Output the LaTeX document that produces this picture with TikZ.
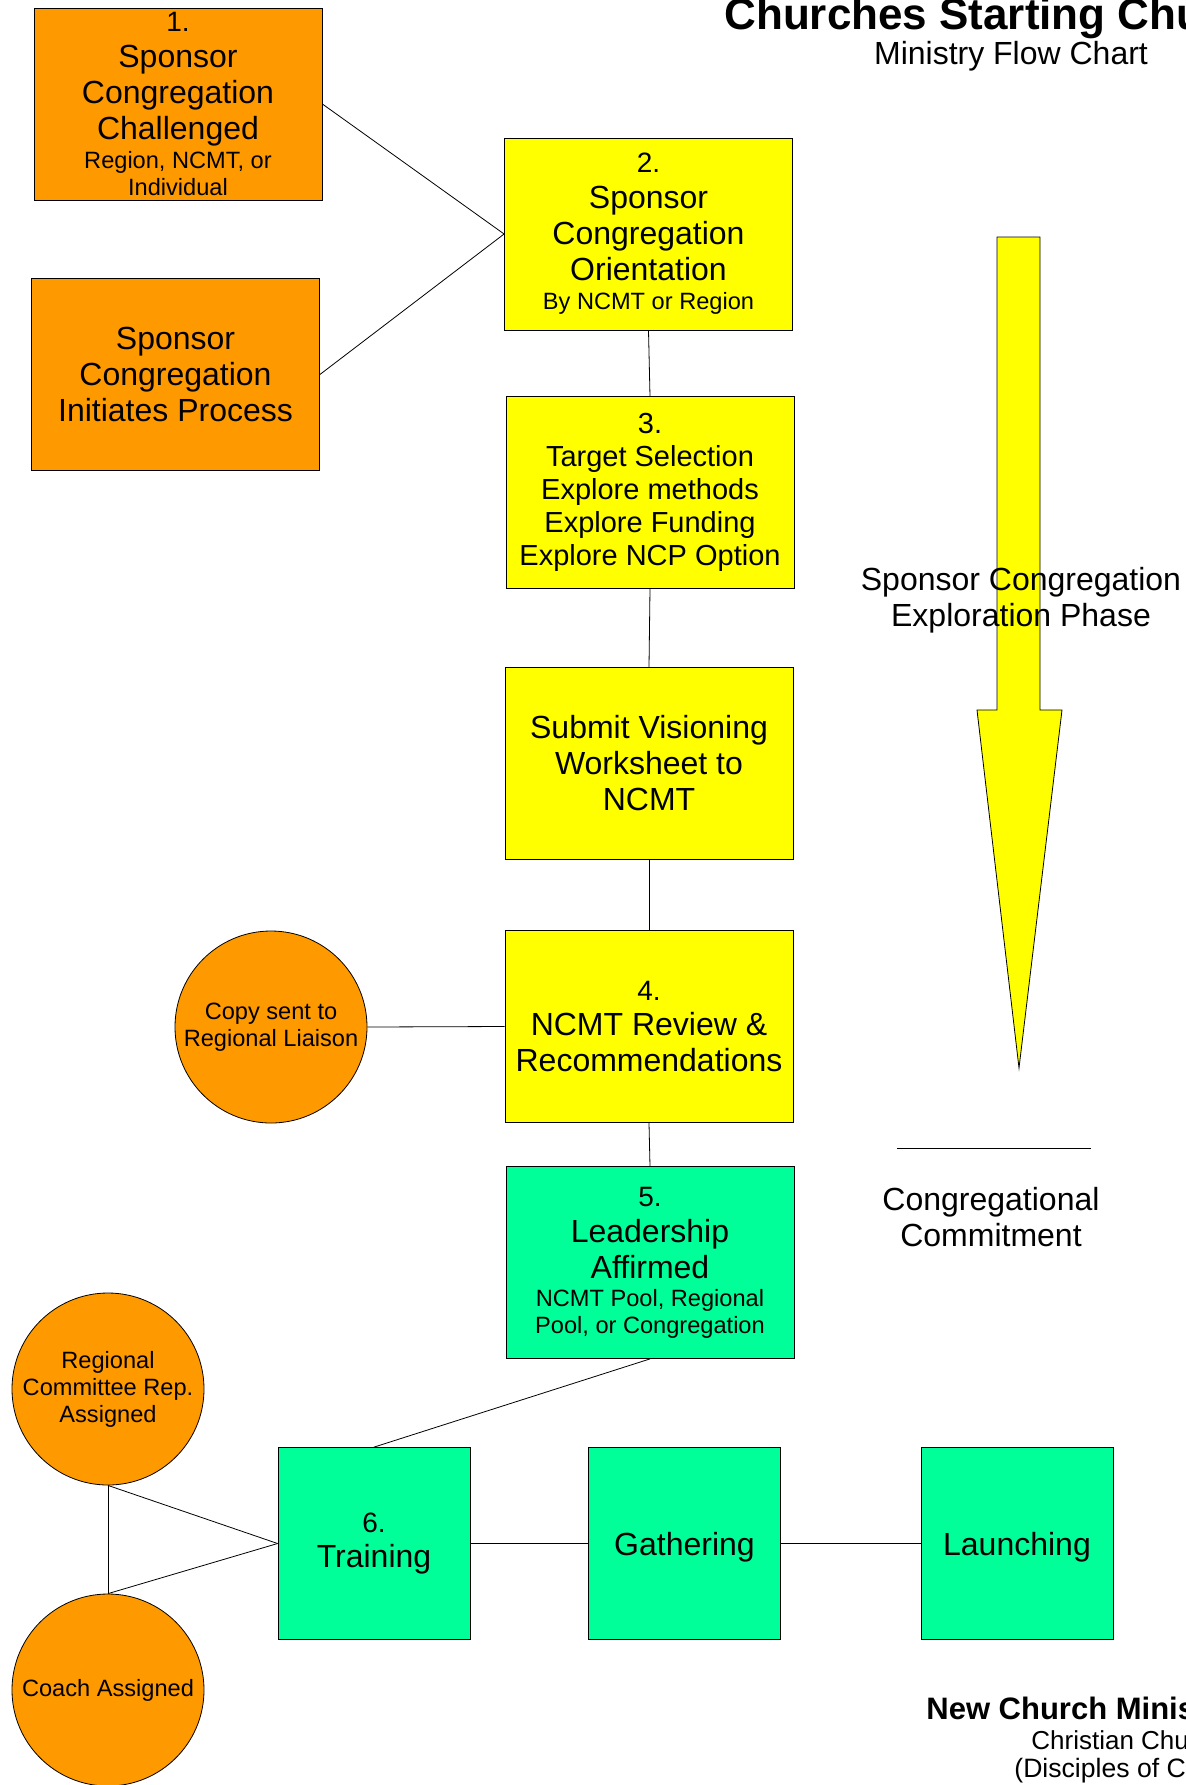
\documentclass[tikz,border=0pt]{standalone}
\usepackage{fontspec}
\setmainfont{Liberation Sans}
\usepackage{xcolor}
\definecolor{boxorange}{HTML}{FF9900}
\definecolor{boxyellow}{HTML}{FFFF00}
\definecolor{boxgreen}{HTML}{00FF99}
\newcommand\bigtxt{\fontsize{16}{18}\selectfont}
\newcommand\midtxt{\fontsize{14.5}{16.5}\selectfont}
\newcommand\numtxt{\fontsize{14}{16}\selectfont}
\newcommand\smalltxt{\fontsize{11.8}{13.5}\selectfont}
\newcommand\titletxt{\fontsize{22}{25}\selectfont\bfseries}

\begin{document}
\begin{tikzpicture}[x=0.5pt,y=-0.5pt,
    stepbox/.style={draw,rectangle,minimum width=144pt,minimum height=96pt,inner sep=0pt,align=center,font=\bigtxt},
    squarebox/.style={stepbox,minimum width=96pt,fill=boxgreen},
    roundbox/.style={draw,circle,minimum size=96pt,inner sep=0pt,align=center,fill=boxorange,font=\smalltxt},
    label/.style={inner sep=0pt}]
  \useasboundingbox (0,0) rectangle (1186,1785);

  \node[stepbox,fill=boxorange] (challenged) at (178,104)
    {\numtxt 1.\\Sponsor\\Congregation\\Challenged\\[-3.5pt]\smalltxt Region, NCMT, or\\[-4.5pt]\smalltxt Individual};
  \node[stepbox,fill=boxorange] (initiates) at (175.5,374.5)
    {Sponsor\\Congregation\\Initiates Process};
  \node[stepbox,fill=boxyellow] (orientation) at (648.5,234)
    {\numtxt 2.\\Sponsor\\Congregation\\Orientation\\[-3.5pt]\smalltxt By NCMT or Region};
  \node[stepbox,fill=boxyellow,font=\midtxt] (target) at (650,492.5)
    {3.\\Target Selection\\Explore methods\\Explore Funding\\Explore NCP Option};
  \node[stepbox,fill=boxyellow] (worksheet) at (649,763.5)
    {Submit Visioning\\Worksheet to\\NCMT};
  \node[stepbox,fill=boxyellow] (review) at (649,1026.5)
    {\numtxt 4.\\[-0.5pt]NCMT Review \&\\Recommendations};
  \node[roundbox] (copy) at (271,1027) {Copy sent to\\Regional Liaison};
  \node[stepbox,fill=boxgreen] (leadership) at (650,1262.5)
    {\numtxt 5.\\Leadership\\Affirmed\\[-4pt]\smalltxt NCMT Pool, Regional\\[-4.5pt]\smalltxt Pool, or Congregation};
  \node[roundbox] (regional) at (108,1389) {Regional\\Committee Rep.\\Assigned};
  \node[roundbox] (coach) at (108,1690) {Coach Assigned};
  \node[squarebox] (training) at (374,1543.5) {\numtxt 6.\\[-0.5pt]Training};
  \node[squarebox,text depth=0pt] (gathering) at (684.5,1543.5) {Gathering};
  \node[squarebox,text depth=0pt] (launching) at (1017,1543.5) {Launching};

  \draw (challenged.east) -- (orientation.west);
  \draw (initiates.east) -- (orientation.west);
  \draw (orientation.south) -- (target.north);
  \draw (target.south) -- (worksheet.north);
  \draw (worksheet.south) -- (review.north);
  \draw (copy.east) -- (review.west);
  \draw (review.south) -- (leadership.north);
  \draw (leadership.south) -- (training.north);
  \draw (regional.south) -- (training.west);
  \draw (coach.north) -- (training.west);
  \draw (regional.south) -- (coach.north);
  \draw (training.east) -- (gathering.west);
  \draw (gathering.east) -- (launching.west);

  \draw[fill=boxyellow] (997,237) -- (1040,237) -- (1040,710) -- (1062,710)
    -- (1019,1068) -- (977,710) -- (997,710) -- cycle;
  \node[label,align=center,font=\bigtxt,anchor=base] (phase) at (1021,626)
    {Sponsor Congregation\\Exploration Phase};
  \coordinate (divleft) at (897,1148);
  \coordinate (divright) at (1091,1148);
  \draw (divleft) -- (divright);
  \node[label,align=center,font=\bigtxt,anchor=base] (commitment) at (991,1246)
    {Congregational\\Commitment};

  \node[label,anchor=base west,font=\titletxt] (title) at (724,29) {Churches Starting Churches};
  \node[label,anchor=base,font=\bigtxt] (subtitle) at (1011,64) {Ministry Flow Chart};
  \node[label,anchor=base west,font=\fontsize{15.5}{18}\selectfont\bfseries] (ministry) at (926,1719) {New Church Ministry};
  \node[label,anchor=base west,font=\fontsize{13}{15}\selectfont] (church) at (1031,1749) {Christian Church};
  \node[label,anchor=base west,font=\fontsize{13.3}{15}\selectfont] (disciples) at (1014,1777) {(Disciples of Christ)};
\end{tikzpicture}
\end{document}
